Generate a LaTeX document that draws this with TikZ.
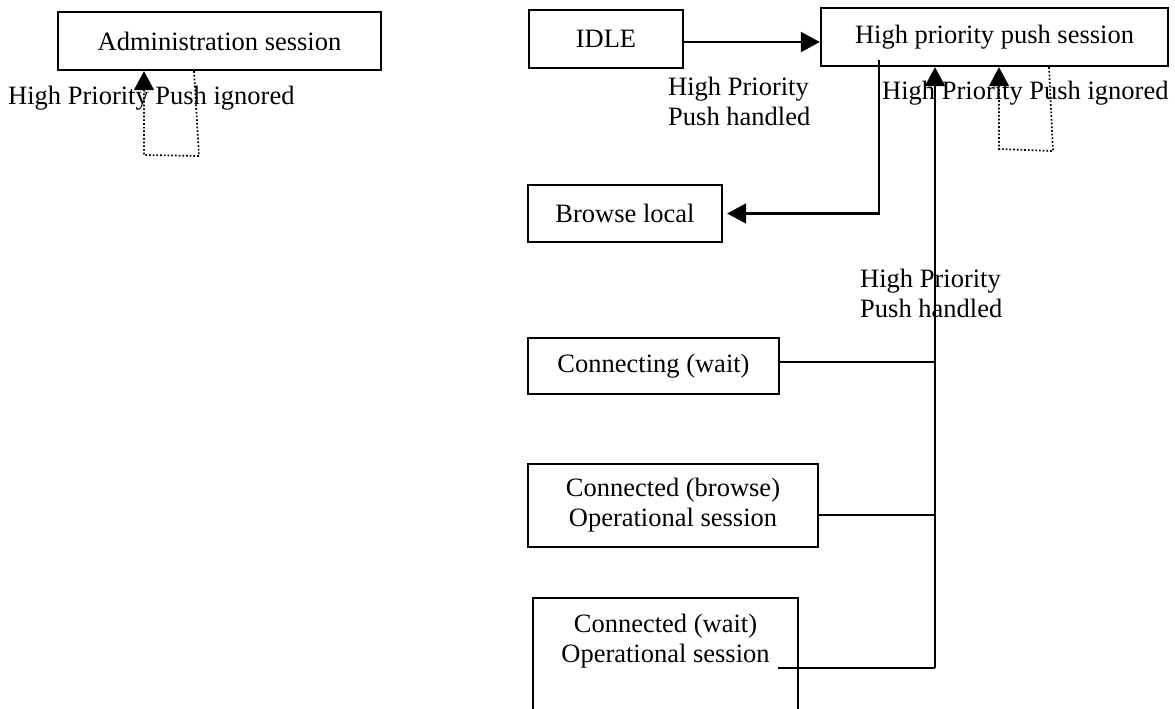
\documentclass[tikz,border=0pt]{standalone}
\usepackage{fontspec}
\setmainfont{Liberation Serif}
\usetikzlibrary{arrows.meta}
\newcommand\diagfont{\fontsize{26.5}{30}\selectfont}
\begin{document}
\begin{tikzpicture}[x=1pt,y=-1pt,
  box/.style={draw, line width=2.4pt, inner sep=0pt, align=center, font=\diagfont},
  lbl/.style={inner sep=0pt, align=left, font=\diagfont},
  conn/.style={line width=2.1pt},
  tip/.style={-{Triangle[length=19pt,width=20pt]}},
  selfloop/.style={line width=1.7pt, dotted}]
\useasboundingbox (0,0) rectangle (1175,709);
\clip (0,0) rectangle (1175,709);

% boxes
\node[box, minimum width=323pt, minimum height=58pt] (admin) at (219.5,41) {Administration session};
\node[box, minimum width=154pt, minimum height=58pt] (idle) at (606,39) {IDLE};
\node[box, minimum width=347pt, minimum height=58pt] (hp) at (994.5,37) {High priority push session};
\node[box, minimum width=194pt, minimum height=57pt] (browse) at (625,213.5) {Browse local};
\node[box, minimum width=251pt, minimum height=56pt] (cing) at (653.5,366) {Connecting (wait)};
\node[box, minimum width=290pt, minimum height=83pt] (cb) at (673,505.5) {Connected (browse)\\Operational session};
\node[box, minimum width=265pt, minimum height=142pt] (cw) at (665.5,669) {};
\node[lbl, align=center] (cwt) at (665.5,641) {Connected (wait)\\Operational session};

% labels
\node[lbl, anchor=west] (l1) at (8,98) {High Priority Push ignored};
\node[lbl, anchor=west] (l2) at (668,101) {High Priority\\Push handled};
\node[lbl, anchor=west] (l3) at (882,93) {High Priority Push ignored};
\node[lbl, anchor=west] (l4) at (860,293) {High Priority\\Push handled};

% connectors
\draw[conn,tip] (idle.east |- 0,42) -- (hp.west |- 0,42);
\coordinate (s1) at (879,60);
\draw[conn,tip,shorten >=4pt] (s1) |- (browse.east);

\coordinate (j) at (935,668);
\coordinate (cwa) at (778,668);
\draw[conn] (cwa) -- (j);
\draw[conn,tip] (j) -- (hp.south -| j);
\draw[conn] ([yshift=4pt]cing.east) -- ([yshift=4pt]cing.east -| j);
\draw[conn] (cb.east |- 0,515) -- (j |- 0,515);

% self loops
\draw[selfloop,tip] (admin.south -| 194,0) -- (199,156) -- (144,155) -- (admin.south -| 144,0);
\draw[selfloop,tip] (hp.south -| 1049,0) -- (1053,151) -- (999,149) -- (hp.south -| 999,0);
\end{tikzpicture}
\end{document}
